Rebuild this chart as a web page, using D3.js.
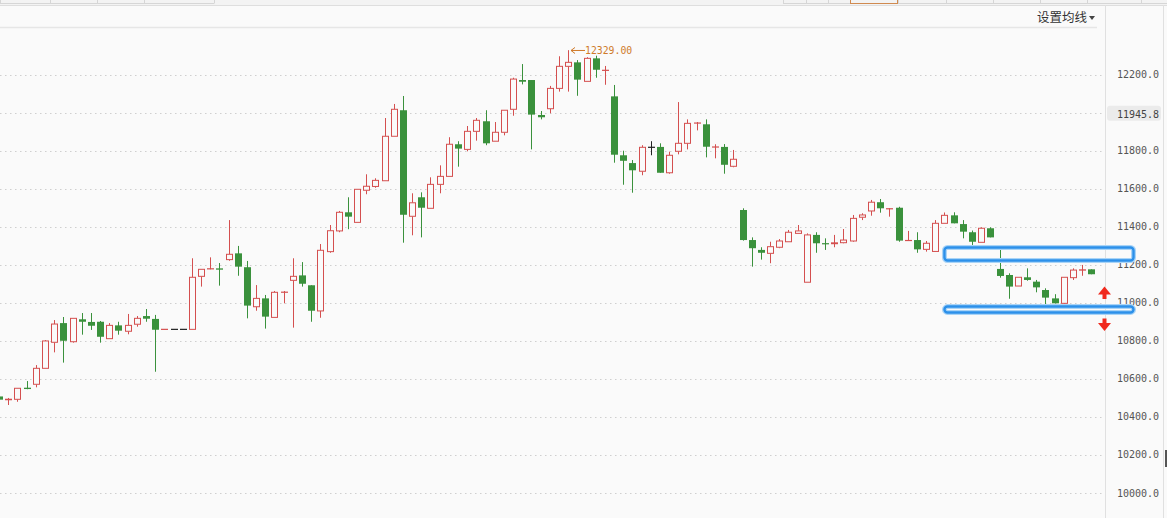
<!DOCTYPE html>
<html><head><meta charset="utf-8">
<script src="https://cdn.jsdelivr.net/npm/d3@7"></script>
<style>
html,body{margin:0;padding:0;background:#fafafa;overflow:hidden;}
svg{display:block;}
</style></head><body>
<svg id="chart" width="1167" height="518"></svg>
<script>
// ---- data ----
const opens = [10507,10487,10492,10553,10571,10655,10792,10893,10795,10913,10899,10900,10811,10881,10850,10887,10930,10915,10860,10860,
10860,10860,11139,11176,11181,11227,11260,11187,10979,11023,10923,11053,11118,11144,11092,10957,11269,11378,11476,11423,
11592,11612,11642,11876,12013,11455,11555,11497,11623,11665,11834,11807,11902,11955,11850,11897,12018,12172,12172,11988,
12021,12128,12244,12265,12165,12286,12221,12086,11776,11735,11692,11818,11820,11684,11797,11839,11944,11939,11818,11820,
11718,11488,11330,11278,11260,11292,11321,11365,11108,11357,11313,11308,11316,11325,11450,11483,11529,11492,11500,11325,
11330,11281,11270,11418,11460,11414,11371,11318,11392,11178,11146,11088,11134,11111,11067,11023,10997,11132,11169,11176];
const highs = [10509,10499,10551,10588,10672,10804,10909,10925,10918,10946,10946,10904,10893,10900,10941,10930,10967,10936,10860,10860,
10860,11234,11176,11239,11209,11435,11299,11220,11093,11041,11062,11062,11234,11214,11092,11309,11409,11483,11555,11597,
11676,11655,11972,12046,12088,11576,11581,11660,11723,11871,11850,11930,11972,12013,11951,12013,12184,12256,12172,12009,
12141,12297,12329,12277,12292,12300,12246,12146,11800,11751,11829,11850,11839,11795,12056,11965,11951,11965,11834,11835,
11804,11497,11344,11292,11321,11335,11383,11409,11365,11371,11339,11357,11388,11462,11471,11541,11546,11497,11505,11378,
11371,11325,11435,11475,11476,11435,11380,11397,11397,11287,11155,11134,11181,11120,11076,11045,11134,11181,11199,11176];
const lows = [10486,10462,10479,10545,10555,10655,10739,10685,10790,10832,10857,10790,10811,10832,10834,10874,10900,10637,10860,10860,
10860,10860,11085,11176,11090,11221,11142,10918,10958,10864,10923,10997,10869,11085,10900,10921,11263,11371,11387,11423,
11571,11605,11642,11876,11316,11355,11344,11497,11576,11665,11716,11797,11853,11829,11850,11881,11984,12149,11807,11965,
11997,12111,12111,12089,12165,12184,12147,11737,11621,11579,11671,11776,11684,11679,11781,11807,11907,11765,11760,11679,
11713,11327,11190,11227,11208,11287,11321,11365,11108,11263,11278,11292,11313,11321,11435,11458,11474,11453,11321,11325,
11263,11269,11270,11418,11418,11339,11304,11318,11344,11132,11021,11088,11116,11055,10987,10997,10971,11120,11142,11150];
const closes = [10490,10495,10550,10546,10655,10799,10888,10800,10918,10900,10879,10821,10881,10853,10881,10918,10916,10858,10860,10860,
10860,11134,11176,11181,11174,11255,11190,10985,11023,10927,11055,11058,11139,11100,10958,11276,11379,11476,11453,11597,
11613,11644,11876,12018,11463,11526,11500,11623,11665,11834,11811,11902,11960,11839,11897,12013,12177,12163,11990,11976,
12128,12244,12265,12174,12286,12226,12225,11779,11747,11697,11818,11818,11684,11776,11839,11944,11947,11821,11821,11726,
11755,11330,11287,11263,11295,11325,11371,11378,11357,11313,11308,11318,11330,11444,11462,11529,11497,11497,11327,11330,
11281,11313,11418,11460,11418,11374,11321,11392,11344,11141,11085,11134,11120,11081,11027,10997,11134,11172,11176,11150];
const days = d3.range(opens.length);               // candle index (trading days)
const yTickValues = [10000,10200,10400,10600,10800,11000,11200,11400,11600,11800,12000,12200];
const currentPriceLabel = 11945.8;                  // highlighted label shown in the 12000 slot
const peakValue = 12329.00;
const zoneUpper = [11222, 11291];                   // blue box price range
const zoneLower = [10949, 10980];
const zoneStartIndex = 103, zoneEndIndex = 123.6;
const menuText = "设置均线";

// ---- colours ----
const RED = "#d44f4f", GREEN = "#3a913c", FLAT = "#222";
const BG = "#fafafa";

const W = 1167, H = 518;
const svg = d3.select("#chart");
svg.append("rect").attr("width", W).attr("height", H).attr("fill", BG);

const x = d3.scaleLinear().domain([0, days.length - 1]).range([-0.88, 1091.3]);
const y = d3.scaleLinear().domain([10000, 12200]).range([492.8, 74.7]);

// ---- chrome (top toolbar strip, separators) ----
const chrome = svg.append("g");
chrome.append("rect").attr("x", 0).attr("y", 0).attr("width", W).attr("height", 5).attr("fill", "#f3f3f3");
chrome.append("line").attr("x1", 0).attr("x2", W).attr("y1", 5.5).attr("y2", 5.5).attr("stroke", "#dedede");
const leftCells = [0, 50, 97, 144, 214];
const rightCells = [783, 806, 828, 850, 898, 946, 993, 1040, 1087, 1141, 1167];
[leftCells, rightCells].forEach(cells => {
  chrome.append("line").attr("x1", cells[0]).attr("x2", cells[cells.length-1]).attr("y1", 3.5).attr("y2", 3.5).attr("stroke", "#d6d6d6");
  cells.forEach(cx => chrome.append("line").attr("x1", cx + 0.5).attr("x2", cx + 0.5).attr("y1", 0).attr("y2", 3.5).attr("stroke", "#d6d6d6"));
});
chrome.append("rect").attr("x", 850.5).attr("y", -1).attr("width", 47).attr("height", 4.5).attr("fill", "none").attr("stroke", "#d08a50");
chrome.append("line").attr("x1", 0).attr("x2", 1097).attr("y1", 27.5).attr("y2", 27.5).attr("stroke", "#e6e6e6").attr("stroke-width", 1.5);
chrome.append("line").attr("x1", 1105.5).attr("x2", 1105.5).attr("y1", 5).attr("y2", H).attr("stroke", "#e0e0e0");
chrome.append("line").attr("x1", 1163.5).attr("x2", 1163.5).attr("y1", 5).attr("y2", H).attr("stroke", "#e0e0e0");
chrome.append("rect").attr("x", 1165).attr("y", 450).attr("width", 2).attr("height", 17).attr("fill", "#555");
chrome.append("text").attr("x", 1037).attr("y", 17).attr("dy", "0.36em")
  .attr("font-family", "'Noto Sans CJK SC', sans-serif").attr("font-size", 12.5).attr("fill", "#333").text(menuText);
chrome.append("path").attr("d", "M1089,16 L1095,16 L1092,20 Z").attr("fill", "#444");

// ---- gridlines ----
svg.append("g").selectAll("line").data(yTickValues).join("line")
  .attr("x1", 0).attr("x2", 1102)
  .attr("y1", d => Math.round(y(d)) + 0.5).attr("y2", d => Math.round(y(d)) + 0.5)
  .attr("stroke", "#cfcfcf").attr("stroke-dasharray", "1.5,3.5");

// ---- y axis (right) ----
const axisG = svg.append("g").attr("transform", "translate(1105,0)")
  .call(d3.axisRight(y).tickValues(yTickValues).tickSize(0).tickPadding(12)
    .tickFormat(d => d === 12000 ? currentPriceLabel.toFixed(1) : d.toFixed(1)));
axisG.select(".domain").remove();
axisG.selectAll("text").attr("font-family", "'DejaVu Sans Mono', monospace").attr("font-size", 10).attr("fill", "#555");
axisG.selectAll(".tick").filter(d => d === 12000).each(function() {
  const t = d3.select(this);
  t.insert("rect", "text").attr("x", 2).attr("y", -7.5).attr("width", 54).attr("height", 15).attr("rx", 3).attr("fill", "#ebebeb");
  t.select("text").attr("dy", "0.45em").attr("fill", "#444");
});

// ---- candles ----
function colorOf(i) {
  if (closes[i] > opens[i]) return RED;
  if (closes[i] < opens[i]) return GREEN;
  if (i > 0 && closes[i] > closes[i-1]) return RED;
  if (i > 0 && closes[i] < closes[i-1]) return GREEN;
  return FLAT;
}
const cg = svg.append("g");
days.forEach(i => {
  const c = Math.round(x(i));
  const col = colorOf(i);
  const yo = y(opens[i]), yc = y(closes[i]), yh = y(highs[i]), yl = y(lows[i]);
  const top = Math.min(yo, yc), bot = Math.max(yo, yc);
  const g = cg.append("g");
  if (col === RED && bot - top >= 2) {
    g.append("line").attr("x1", c + 0.5).attr("x2", c + 0.5).attr("y1", yh).attr("y2", top).attr("stroke", col);
    g.append("line").attr("x1", c + 0.5).attr("x2", c + 0.5).attr("y1", bot).attr("y2", yl).attr("stroke", col);
    g.append("rect").attr("x", c - 2.5).attr("y", top).attr("width", 6).attr("height", bot - top)
      .attr("fill", BG).attr("stroke", col).attr("stroke-width", 1);
  } else {
    g.append("line").attr("x1", c + 0.5).attr("x2", c + 0.5).attr("y1", yh).attr("y2", yl).attr("stroke", col);
    const h = Math.max(bot - top, 1.2);
    const ty = bot - top < 1.2 ? (top + bot) / 2 - 0.6 : top;
    g.append("rect").attr("x", c - 3).attr("y", ty).attr("width", 7).attr("height", h).attr("fill", col);
  }
});

// ---- peak annotation ----
const peakIdx = highs.indexOf(d3.max(highs));
const px = Math.round(x(peakIdx)) + 3, py = y(peakValue) + 0.3;
const ORANGE = "#cf7a2a";
svg.append("line").attr("x1", px).attr("x2", px + 14).attr("y1", py).attr("y2", py).attr("stroke", ORANGE);
svg.append("path").attr("d", `M${px+4},${py-3} L${px},${py} L${px+4},${py+3}`).attr("fill", "none").attr("stroke", ORANGE);
svg.append("text").attr("x", px + 14).attr("y", py).attr("dy", "0.36em")
  .attr("font-family", "'DejaVu Sans Mono', monospace").attr("font-size", 9.8).attr("fill", ORANGE)
  .text(peakValue.toFixed(2));

// ---- blue zone boxes ----
[zoneUpper, zoneLower].forEach(z => {
  const x0 = x(zoneStartIndex), x1 = x(zoneEndIndex);
  const y0 = y(z[1]), y1 = y(z[0]);
  svg.append("rect").attr("x", x0).attr("y", y0).attr("width", x1 - x0).attr("height", y1 - y0).attr("rx", 3)
    .attr("fill", "none").attr("stroke", "#a9d4f7").attr("stroke-width", 5);
  svg.append("rect").attr("x", x0).attr("y", y0).attr("width", x1 - x0).attr("height", y1 - y0).attr("rx", 3)
    .attr("fill", "none").attr("stroke", "#2c90ea").attr("stroke-width", 2.4);
});

// ---- red arrows between zones ----
const ax = 1104.5;
const upY = y(zoneUpper[0]) + 26, dnY = y(zoneLower[0]) + 6;
svg.append("path").attr("d", `M${ax},${upY} L${ax+6.5},${upY+8} L${ax+2},${upY+8} L${ax+2},${upY+12.5} L${ax-2},${upY+12.5} L${ax-2},${upY+8} L${ax-6.5},${upY+8} Z`).attr("fill", "#f02a1e");
svg.append("path").attr("d", `M${ax},${dnY+12.5} L${ax+6.5},${dnY+4.5} L${ax+2},${dnY+4.5} L${ax+2},${dnY} L${ax-2},${dnY} L${ax-2},${dnY+4.5} L${ax-6.5},${dnY+4.5} Z`).attr("fill", "#f02a1e");
</script>
</body></html>
